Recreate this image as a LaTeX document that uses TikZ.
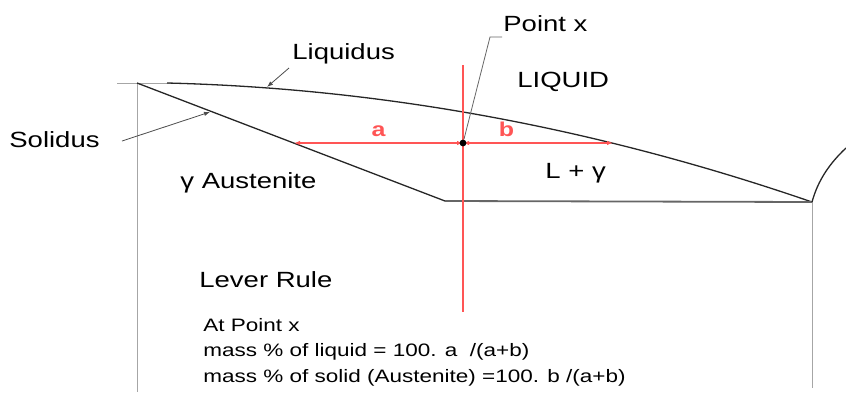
\documentclass[tikz,border=0pt]{standalone}
\usepackage{fontspec}
\setmainfont{Liberation Sans}[FakeStretch=1.25]
\usetikzlibrary{arrows.meta}
\definecolor{tiered}{RGB}{255,85,85}

\begin{document}
\begin{tikzpicture}[
  x=0.5pt, y=-0.5pt,
  >={Latex[length=3pt,width=2.2pt]},
  every node/.style={inner sep=0pt},
  lbl/.style={font=\fontsize{11}{13}\selectfont},
  note/.style={font=\fontsize{9}{12.8}\selectfont, align=left},
  phase/.style={line width=0.65pt, black!85},
  guide/.style={line width=0.45pt, black!35},
  leader/.style={->, line width=0.4pt, black!70},
  dim/.style={<->, line width=0.6pt, tiered},
]
  \useasboundingbox (0,0) rectangle (846,392);

  % ---------- frame lines ----------
  \coordinate (top)  at (137,83);
  \coordinate (eut)  at (812,202);
  \draw[guide] (117,83) -- (170,83);
  \draw[guide] (top) -- (137,392);
  \draw[guide] (eut) -- (812,388);

  % ---------- phase boundaries ----------
  \coordinate (liq0) at (167,83);
  \coordinate (corner) at (445,201);
  \draw[phase] (liq0) .. controls (382,88.3) and (597,127.9) .. (eut);
  \draw[phase] (top) -- (corner);
  \draw[line width=0.9pt, black!60] (corner) -- (eut);
  \draw[phase] (eut) .. controls (818,180) and (830,163) .. (846,148);

  % ---------- tie line ----------
  \coordinate (sol) at (294,143);
  \coordinate (px)  at (463,143);
  \coordinate (liq) at (613,143);
  \draw[line width=0.6pt, tiered] (463,65) -- (463,312);
  \draw[dim] (sol) -- (px) node[midway, above=3pt, lbl, tiered, font=\bfseries] (la) {a};
  \draw[dim] (px) -- (liq) node[pos=0.29, above=3pt, lbl, tiered, font=\bfseries] (lb) {b};
  \node[circle, fill=black, minimum size=3.4pt] (dot) at (px) {};

  % ---------- labels ----------
  \node[lbl, anchor=west] (pointx) at (503,24) {Point x};
  \coordinate (bend) at (490,37);
  \draw[line width=0.4pt, black!60] (dot) -- (bend) -- (502,37);

  \node[lbl, anchor=west] (liquidus) at (292,54) {Liquidus};
  \coordinate (liqhit) at (267,87);
  \draw[leader] (289,68) -- (liqhit);

  \node[lbl, anchor=east] (solidus) at (100,140) {Solidus};
  \coordinate (solhit) at (210,112);
  \draw[leader] (122,141) -- (solhit);

  \node[lbl, anchor=west] (liquid) at (517,82) {LIQUID};
  \node[lbl, anchor=west] (lgam) at (545,173) {L + γ};
  \node[lbl, anchor=west] (aust) at (180,183) {γ Austenite};
  \node[lbl, anchor=west] (lever) at (199,280) {Lever Rule};

  \node[note, anchor=west] (rule) at (203,352)
    {At Point x\\
     mass \% of liquid = 100. a \ /(a+b)\\
     mass \% of solid (Austenite) =100. b /(a+b)};
\end{tikzpicture}
\end{document}
